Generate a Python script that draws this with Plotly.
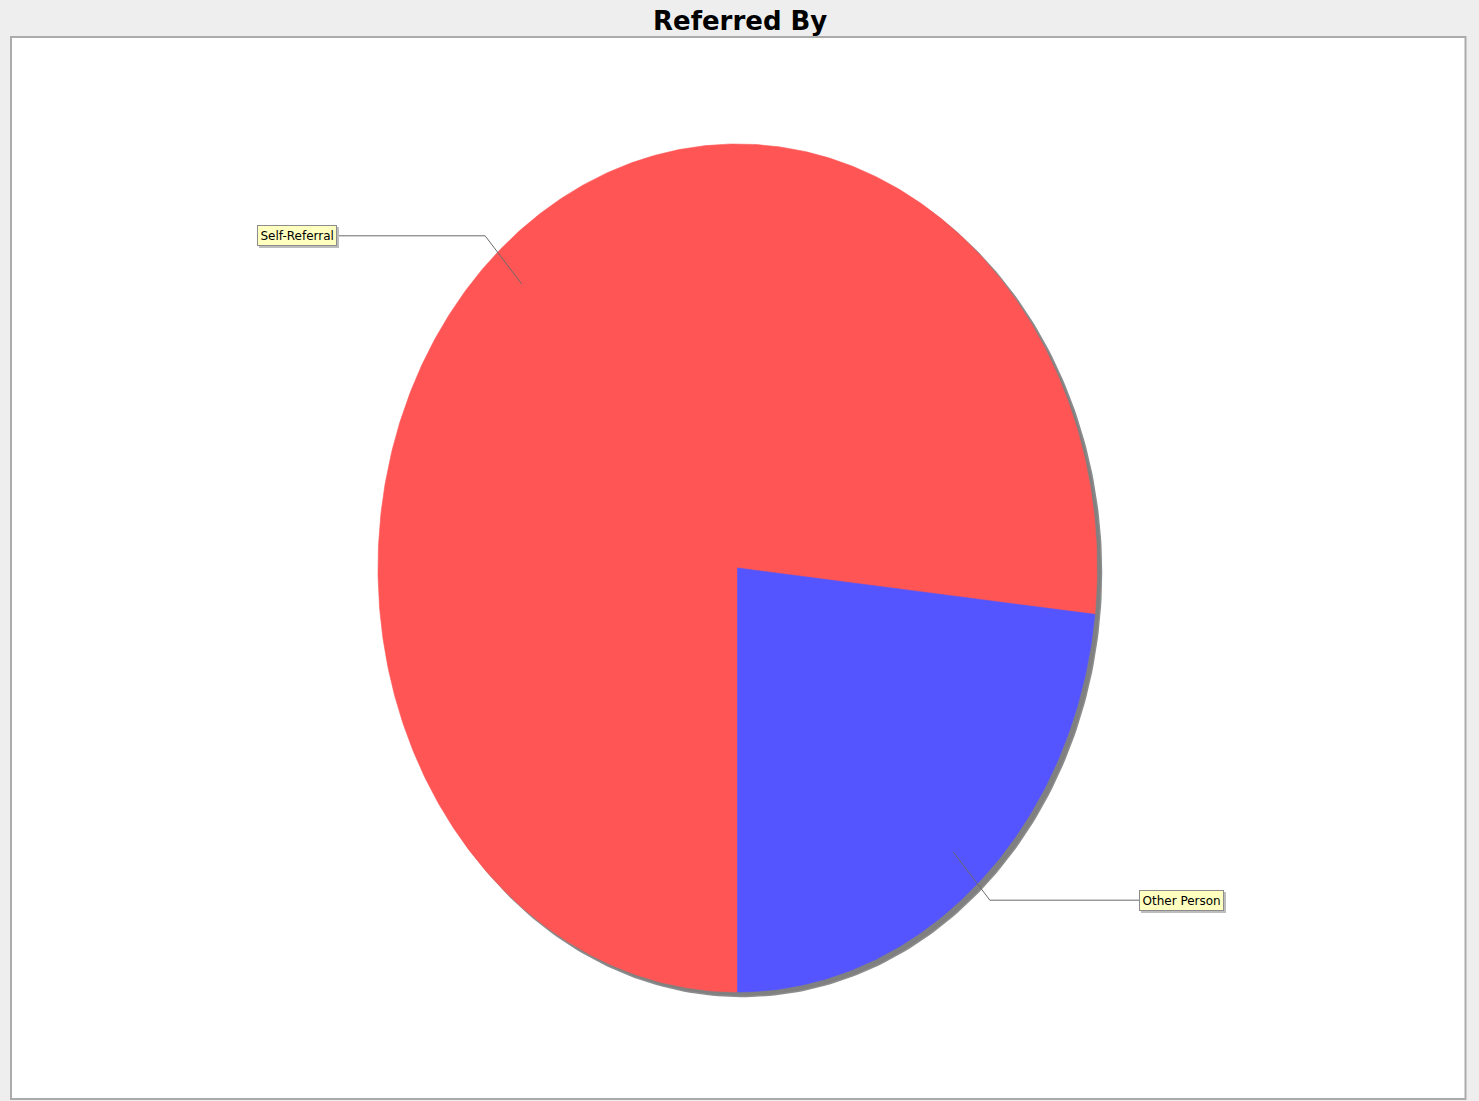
import numpy as np
import plotly.graph_objects as go

# Referral sources and their counts
categories = ["Self-Referral", "Other Person"]
counts = [33, 10]
slice_colors = ["#ff5555", "#5555ff"]

W, H = 1479, 1101
# pie geometry (pixel space, y grows downward)
cx, cy = 737.5, 568.0
rx, ry = 359.5, 424.0
start_deg = 270.0          # first slice begins at the bottom
shadow_dx, shadow_dy = 4.5, 4.5

fig = go.Figure()


def ellipse_pt(theta_deg, r=1.0, ox=0.0, oy=0.0):
    t = np.radians(theta_deg)
    return cx + ox + r * rx * np.cos(t), cy + oy - r * ry * np.sin(t)


# drop shadow behind the pie
th = np.linspace(0, 360, 400)
sx, sy = ellipse_pt(th, ox=shadow_dx, oy=shadow_dy)
fig.add_trace(go.Scatter(x=sx, y=sy, mode="lines", fill="toself",
                         fillcolor="#808080", line=dict(color="#8c8c8c", width=1.5),
                         hoverinfo="skip", showlegend=False))

total = sum(counts)
angle = start_deg
mids = []
for name, val, col in zip(categories, counts, slice_colors):
    sweep = 360.0 * val / total
    a0, a1 = angle, angle - sweep      # clockwise
    arc = np.linspace(a0, a1, max(int(sweep * 2), 20))
    ax_, ay_ = ellipse_pt(arc)
    xs = np.concatenate([[cx], ax_, [cx]])
    ys = np.concatenate([[cy], ay_, [cy]])
    fig.add_trace(go.Scatter(x=xs, y=ys, mode="lines", fill="toself",
                             fillcolor=col, line=dict(color=col, width=0.6),
                             name=name, hoverinfo="name", showlegend=False))
    mids.append((a0 + a1) / 2.0)
    angle = a1

# label links and boxes
label_left_x = 337
label_right_x = 1139
label_font = dict(family="DejaVu Sans", size=12, color="#000000")
for name, mid in zip(categories, mids):
    x0, y0 = ellipse_pt(mid, r=0.9)
    x1, y1 = ellipse_pt(mid, r=1.052)
    on_left = x1 < cx
    x2 = label_left_x if on_left else label_right_x
    fig.add_trace(go.Scatter(x=[x0, x1, x2], y=[y0, y1, y1], mode="lines",
                             line=dict(color="#6a6a6a", width=1),
                             hoverinfo="skip", showlegend=False))
    anchor = "right" if on_left else "left"
    common = dict(xref="x", yref="y", text=name, showarrow=False,
                  xanchor=anchor, yanchor="middle", borderpad=2.5, borderwidth=1)
    # box shadow
    fig.add_annotation(x=x2 + 2, y=y1 + 2, **common,
                       bgcolor="#bdbdbd", bordercolor="#bdbdbd",
                       font=dict(label_font, color="rgba(0,0,0,0)"))
    fig.add_annotation(x=x2, y=y1, **common, bgcolor="#ffffc0",
                       bordercolor="#8c8c8c", font=label_font)

# title
fig.add_annotation(x=W / 2, y=21, xref="x", yref="y", text="<b>Referred By</b>",
                   showarrow=False, xanchor="center", yanchor="middle",
                   font=dict(family="DejaVu Sans", size=26, color="#000000"))

# plot area frame
fig.add_shape(type="rect", x0=11, y0=37, x1=1465.5, y1=1099, xref="x", yref="y",
              fillcolor="#ffffff", line=dict(color="#ababab", width=2), layer="below")

fig.update_layout(
    width=W, height=H,
    margin=dict(l=0, r=0, t=0, b=0),
    paper_bgcolor="#eeeeee", plot_bgcolor="#eeeeee",
    xaxis=dict(range=[0, W], visible=False, fixedrange=True),
    yaxis=dict(range=[H, 0], visible=False, fixedrange=True),
    showlegend=False,
)

fig.write_html("out.html")
